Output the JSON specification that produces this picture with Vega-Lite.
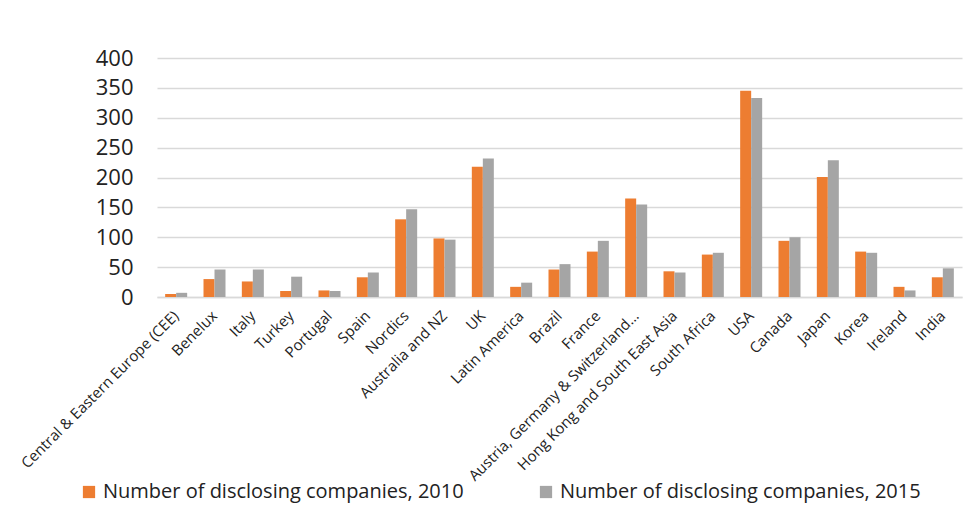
{
  "$schema": "https://vega.github.io/schema/vega-lite/v6.json",
  "autosize": {"type": "none"},
  "padding": {"left": 157, "top": 58, "right": 10, "bottom": 216},
  "width": 805,
  "height": 239,
  "background": "white",
  "data": {
    "values": [
      {"region": "Central & Eastern Europe (CEE)", "series": "Number of disclosing companies, 2010", "value": 5},
      {"region": "Central & Eastern Europe (CEE)", "series": "Number of disclosing companies, 2015", "value": 7},
      {"region": "Benelux", "series": "Number of disclosing companies, 2010", "value": 30},
      {"region": "Benelux", "series": "Number of disclosing companies, 2015", "value": 46},
      {"region": "Italy", "series": "Number of disclosing companies, 2010", "value": 26},
      {"region": "Italy", "series": "Number of disclosing companies, 2015", "value": 46},
      {"region": "Turkey", "series": "Number of disclosing companies, 2010", "value": 10},
      {"region": "Turkey", "series": "Number of disclosing companies, 2015", "value": 34},
      {"region": "Portugal", "series": "Number of disclosing companies, 2010", "value": 11},
      {"region": "Portugal", "series": "Number of disclosing companies, 2015", "value": 10},
      {"region": "Spain", "series": "Number of disclosing companies, 2010", "value": 33},
      {"region": "Spain", "series": "Number of disclosing companies, 2015", "value": 41},
      {"region": "Nordics", "series": "Number of disclosing companies, 2010", "value": 130},
      {"region": "Nordics", "series": "Number of disclosing companies, 2015", "value": 147},
      {"region": "Australia and NZ", "series": "Number of disclosing companies, 2010", "value": 98},
      {"region": "Australia and NZ", "series": "Number of disclosing companies, 2015", "value": 96},
      {"region": "UK", "series": "Number of disclosing companies, 2010", "value": 218},
      {"region": "UK", "series": "Number of disclosing companies, 2015", "value": 232},
      {"region": "Latin America", "series": "Number of disclosing companies, 2010", "value": 17},
      {"region": "Latin America", "series": "Number of disclosing companies, 2015", "value": 24},
      {"region": "Brazil", "series": "Number of disclosing companies, 2010", "value": 46},
      {"region": "Brazil", "series": "Number of disclosing companies, 2015", "value": 55},
      {"region": "France", "series": "Number of disclosing companies, 2010", "value": 76},
      {"region": "France", "series": "Number of disclosing companies, 2015", "value": 94},
      {"region": "Austria, Germany & Switzerland…", "series": "Number of disclosing companies, 2010", "value": 165},
      {"region": "Austria, Germany & Switzerland…", "series": "Number of disclosing companies, 2015", "value": 155},
      {"region": "Hong Kong and South East Asia", "series": "Number of disclosing companies, 2010", "value": 43},
      {"region": "Hong Kong and South East Asia", "series": "Number of disclosing companies, 2015", "value": 41},
      {"region": "South Africa", "series": "Number of disclosing companies, 2010", "value": 71},
      {"region": "South Africa", "series": "Number of disclosing companies, 2015", "value": 74},
      {"region": "USA", "series": "Number of disclosing companies, 2010", "value": 345},
      {"region": "USA", "series": "Number of disclosing companies, 2015", "value": 333},
      {"region": "Canada", "series": "Number of disclosing companies, 2010", "value": 94},
      {"region": "Canada", "series": "Number of disclosing companies, 2015", "value": 100},
      {"region": "Japan", "series": "Number of disclosing companies, 2010", "value": 201},
      {"region": "Japan", "series": "Number of disclosing companies, 2015", "value": 229},
      {"region": "Korea", "series": "Number of disclosing companies, 2010", "value": 76},
      {"region": "Korea", "series": "Number of disclosing companies, 2015", "value": 74},
      {"region": "Ireland", "series": "Number of disclosing companies, 2010", "value": 17},
      {"region": "Ireland", "series": "Number of disclosing companies, 2015", "value": 11},
      {"region": "India", "series": "Number of disclosing companies, 2010", "value": 33},
      {"region": "India", "series": "Number of disclosing companies, 2015", "value": 48}
    ]
  },
  "mark": {"type": "bar"},
  "encoding": {
    "x": {
      "field": "region",
      "type": "nominal",
      "sort": null,
      "scale": {"paddingInner": 0.426, "paddingOuter": 0.213},
      "axis": {
        "title": null,
        "labelAngle": -45,
        "labelAlign": "right",
        "labelBaseline": "middle",
        "labelFontSize": 15,
        "labelFont": "Open Sans",
        "labelColor": "#222222",
        "labelLimit": 400,
        "labelPadding": 16,
        "ticks": false,
        "domainColor": "#d9d9d9",
        "domainWidth": 1.5
      }
    },
    "xOffset": {"field": "series", "type": "nominal"},
    "y": {
      "field": "value",
      "type": "quantitative",
      "scale": {"domain": [0, 400]},
      "axis": {
        "title": null,
        "values": [0, 50, 100, 150, 200, 250, 300, 350, 400],
        "labelFontSize": 22,
        "labelFont": "Open Sans",
        "labelColor": "#222222",
        "labelPadding": 24,
        "ticks": false,
        "domain": false,
        "gridColor": "#d9d9d9",
        "gridWidth": 1.5
      }
    },
    "color": {
      "field": "series",
      "type": "nominal",
      "scale": {
        "domain": ["Number of disclosing companies, 2010", "Number of disclosing companies, 2015"],
        "range": ["#ED7D31", "#A5A5A5"]
      },
      "legend": {
        "title": null,
        "orient": "none",
        "direction": "horizontal",
        "legendX": -78,
        "legendY": 424,
        "symbolType": "square",
        "symbolSize": 150,
        "symbolStrokeWidth": 0,
        "labelFontSize": 20,
        "labelFont": "Open Sans",
        "labelColor": "#222222",
        "labelLimit": 500,
        "labelOffset": 4,
        "columnPadding": 72
      }
    }
  },
  "config": {"view": {"stroke": null}}
}
